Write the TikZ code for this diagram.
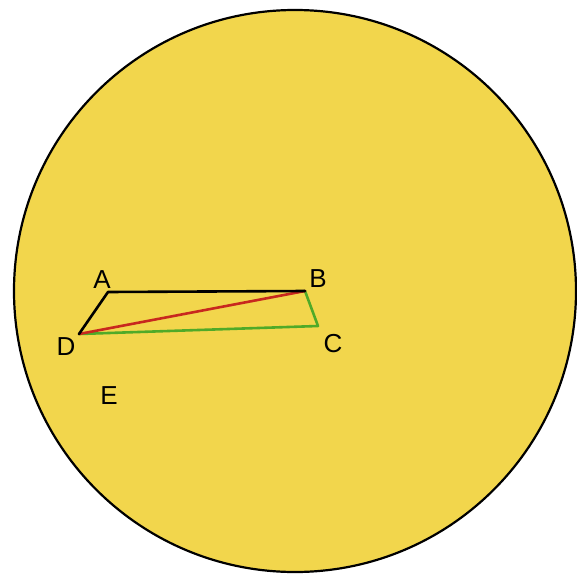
\documentclass[tikz,border=0pt]{standalone}
\usepackage{fontspec}
\setmainfont{Liberation Sans}
\definecolor{disc}{RGB}{242,214,76}
\definecolor{edgegreen}{RGB}{80,170,40}
\definecolor{edgered}{RGB}{200,40,30}
\begin{document}
\begin{tikzpicture}[x=1pt,y=-1pt,
  lbl/.style={font=\fontsize{26}{26}\selectfont, inner sep=0pt},
  side/.style={line width=2.6pt, line cap=round, line join=round}]
\useasboundingbox (0,0) rectangle (577,580);
\fill[white] (0,0) rectangle (577,580);
\draw[disc, fill=disc] (295,291) circle (281);
\draw[line width=2.2pt] (295,291) circle (281);
\coordinate (A) at (108,292);
\coordinate (B) at (305,291);
\coordinate (C) at (318,326);
\coordinate (D) at (79,334);
\draw[side, edgegreen] (B) -- (C) -- (D);
\draw[side, edgered] (D) -- (B);
\draw[side, black] (D) -- (A) -- (B);
\node[lbl] (lA) at (102,280) {A};
\node[lbl] (lB) at (318,279) {B};
\node[lbl] (lC) at (333,344) {C};
\node[lbl] (lD) at (66,347) {D};
\node[lbl] (lE) at (109,396) {E};
\end{tikzpicture}
\end{document}
